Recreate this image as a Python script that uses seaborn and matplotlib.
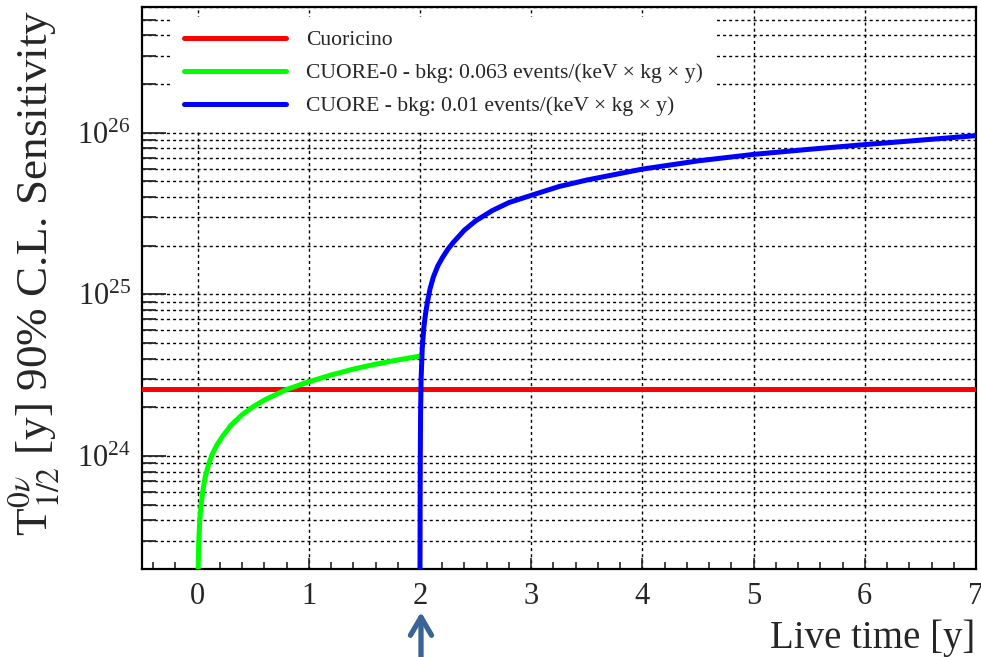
import numpy as np
import pandas as pd
import matplotlib
matplotlib.use("Agg")
import matplotlib.pyplot as plt
import matplotlib.ticker as mticker
import seaborn as sns

# ---------------- data ----------------
series_labels = [
    "Cuoricino",
    "CUORE-0 - bkg: 0.063 events/(keV \u00d7 kg \u00d7 y)",
    "CUORE - bkg: 0.01 events/(keV \u00d7 kg \u00d7 y)",
]
series_colors = ["#ff0000", "#00ff00", "#0000ff"]

time_cuoricino = [-0.5, 7.0]
sens_cuoricino = [2.6e24, 2.6e24]

time_cuore0 = [0.005, 0.01, 0.02, 0.03, 0.05, 0.07, 0.1, 0.13, 0.17, 0.22,
               0.3, 0.4, 0.5, 0.6, 0.8, 1.0, 1.2, 1.4, 1.6, 1.8, 2.0]
sens_cuore0 = [2.0e23, 2.9e23, 4.1e23, 4.9e23, 6.3e23, 7.5e23, 8.9e23, 1.02e24,
               1.16e24, 1.31e24, 1.55e24, 1.8e24, 2.02e24, 2.22e24, 2.58e24,
               2.88e24, 3.17e24, 3.45e24, 3.7e24, 3.93e24, 4.15e24]

time_cuore = [2.0, 2.002, 2.005, 2.01, 2.02, 2.035, 2.05, 2.07, 2.09, 2.12,
              2.16, 2.2, 2.25, 2.3, 2.4, 2.5, 2.65, 2.8, 3.0, 3.25, 3.5, 4.0,
              4.5, 5.0, 5.5, 6.0, 6.5, 7.0]
sens_cuore = [2.0e23, 8.0e23, 1.8e24, 3.0e24, 4.6e24, 6.3e24, 7.6e24, 9.2e24,
              1.08e25, 1.28e25, 1.5e25, 1.68e25, 1.9e25, 2.1e25, 2.5e25,
              2.85e25, 3.3e25, 3.7e25, 4.1e25, 4.65e25, 5.1e25, 5.96e25,
              6.7e25, 7.35e25, 7.9e25, 8.45e25, 9.0e25, 9.6e25]

x_major_ticks = [0, 1, 2, 3, 4, 5, 6, 7]
x_limits = (-0.5, 7.0)
y_limits = (2.0e23, 6.0e26)

# ---------------- style ----------------
sns.set_style("ticks")
plt.rcParams["font.family"] = ["Liberation Serif", "DejaVu Serif"]
plt.rcParams["mathtext.fontset"] = "stix"

fig = plt.figure(figsize=(9.81, 6.57), dpi=100)
ax = fig.add_axes([142 / 981, 1 - 569 / 657, (976 - 142) / 981, (569 - 7) / 657])

frames = [
    (time_cuoricino, sens_cuoricino),
    (time_cuore0, sens_cuore0),
    (time_cuore, sens_cuore),
]
for (t, s), lab, col in zip(frames, series_labels, series_colors):
    df = pd.DataFrame({"t": t, "s": s})
    sns.lineplot(data=df, x="t", y="s", color=col, linewidth=3.6, label=lab,
                 ax=ax, estimator=None, sort=False, zorder=3)

ax.set_yscale("log")
ax.set_xlim(*x_limits)
ax.set_ylim(*y_limits)

ax.xaxis.set_major_locator(mticker.FixedLocator(x_major_ticks))
ax.xaxis.set_minor_locator(mticker.MultipleLocator(0.2))
ax.yaxis.set_major_locator(mticker.LogLocator(base=10, numticks=20))
ax.yaxis.set_minor_locator(mticker.LogLocator(base=10, subs=np.arange(2, 10), numticks=20))
ax.yaxis.set_minor_formatter(mticker.NullFormatter())

ax.tick_params(axis="y", which="major", direction="in", length=17, width=1.3,
               labelsize=22, pad=8)
ax.tick_params(axis="y", which="minor", direction="in", length=10, width=1.3)
ax.tick_params(axis="x", which="major", direction="in", length=8, width=1.2,
               labelsize=22, pad=9)
ax.tick_params(axis="x", which="minor", direction="in", length=5, width=1.2)

grid_kw = dict(color="black", linewidth=1.0, linestyle=(0, (2.2, 2.2)))
ax.grid(True, which="major", axis="both", **grid_kw)
ax.grid(True, which="minor", axis="y", **grid_kw)
ax.set_axisbelow(True)

for sp in ax.spines.values():
    sp.set_linewidth(1.6)
    sp.set_color("black")
    sp.set_visible(True)

ax.set_xlabel("Live time [y]", fontsize=28, loc="right")
ax.xaxis.set_label_coords((975 - 142) / 834, (569 - 648) / 562)
ax.xaxis.label.set_va("baseline")
ax.xaxis.label.set_ha("right")

ax.set_ylabel(r"T$_{1/2}^{0\nu}$ [y] 90% C.L. Sensitivity", fontsize=32.5, loc="top")
ax.yaxis.set_label_coords((34 - 142) / 834, (569 - 10) / 562)
ax.yaxis.label.set_va("center")
ax.yaxis.label.set_ha("right")

leg = ax.legend(loc="upper left", bbox_to_anchor=((171 - 142) / 834, (569 - 17) / 562),
                frameon=True, fancybox=False, framealpha=1, facecolor="white",
                edgecolor="white", fontsize=15.6, handlelength=4.7,
                handletextpad=0.92, borderpad=0.6, labelspacing=0.6,
                borderaxespad=0)
leg.get_frame().set_linewidth(0)
for line in leg.get_lines():
    line.set_linewidth(3.6)

ax.annotate("", xy=(421, 657 - 612), xycoords="figure pixels",
            xytext=(421, 0), textcoords="figure pixels",
            arrowprops=dict(arrowstyle="->, head_length=0.65, head_width=0.38",
                            lw=3.8, color="#3a6498", mutation_scale=20,
                            shrinkA=0, shrinkB=0),
            annotation_clip=False)

fig.savefig("out.png", dpi=100)
